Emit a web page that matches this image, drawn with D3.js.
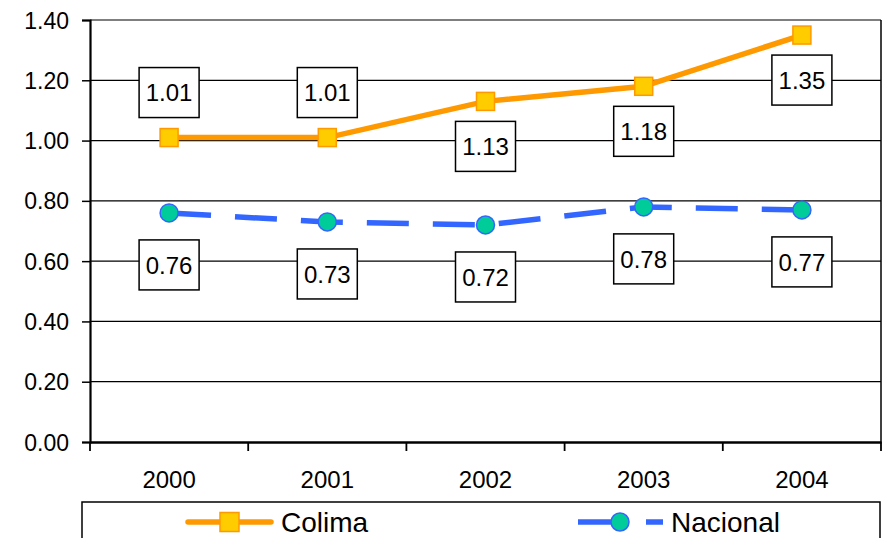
<!DOCTYPE html>
<html><head><meta charset="utf-8">
<script src="https://cdn.jsdelivr.net/npm/d3@7"></script>
<style>body{margin:0;background:#fff}svg{display:block;font-family:"Liberation Sans",Arial,sans-serif}</style>
</head><body><svg id="c" width="888" height="538"></svg>
<script>
const years = ["2000","2001","2002","2003","2004"];
const colima = [1.01, 1.01, 1.13, 1.18, 1.35];
const nacional = [0.76, 0.73, 0.72, 0.78, 0.77];
const colimaLabelPos = ["above","above","below","below","below"];
const nacionalLabelPos = ["below","below","below","below","below"];
const yTicks = [0, 0.2, 0.4, 0.6, 0.8, 1.0, 1.2, 1.4];
const seriesNames = ["Colima","Nacional"];

const svg = d3.select("#c");
const L = 90, R = 881, T = 20, B = 442;
const x = d3.scaleBand().domain(years).range([L, R]);
const y = d3.scaleLinear().domain([0, 1.4]).range([B, T]);
const cx = d => x(d) + x.bandwidth()/2;

// gridlines
svg.append("g").selectAll("line").data(yTicks.slice(1)).join("line")
  .attr("x1", L).attr("x2", R).attr("y1", d=>y(d)).attr("y2", d=>y(d))
  .attr("stroke","#000").attr("stroke-width",1.2);
// right border
svg.append("line").attr("x1",R).attr("x2",R).attr("y1",T).attr("y2",B).attr("stroke","#000").attr("stroke-width",1.5);

// y axis
const yAxis = d3.axisLeft(y).tickValues(yTicks).tickFormat(d3.format(".2f")).tickSizeOuter(0).tickSize(8).tickPadding(13);
const ga = svg.append("g").attr("transform",`translate(${L},0)`).call(yAxis);
ga.attr("font-size",null).attr("font-family",null);
ga.select(".domain").attr("stroke-width",2.2);
ga.selectAll(".tick line").attr("stroke-width",1.5);
ga.selectAll("text").style("font-size","23px").attr("fill","#000").attr("dy","0.35em");

// x axis
const xAxis = d3.axisBottom(x).tickSize(0).tickPadding(29);
const gx = svg.append("g").attr("transform",`translate(0,${B})`).call(xAxis);
gx.attr("font-size",null).attr("font-family",null);
gx.select(".domain").attr("stroke-width",2.5);
gx.selectAll("text").style("font-size","24px").attr("fill","#000");
const bounds = years.map(d=>x(d)).concat([R]);
svg.append("g").selectAll("line").data(bounds).join("line")
  .attr("x1",d=>d).attr("x2",d=>d).attr("y1",B).attr("y2",B+9)
  .attr("stroke","#000").attr("stroke-width",1.8);

const line = d3.line().x((d,i)=>cx(years[i])).y(d=>y(d));

// Nacional
svg.append("path").datum(nacional).attr("d",line).attr("fill","none")
  .attr("stroke","#3366FF").attr("stroke-width",5.5).attr("stroke-dasharray","42,24");
svg.append("g").selectAll("circle").data(nacional).join("circle")
  .attr("cx",(d,i)=>cx(years[i])).attr("cy",d=>y(d)).attr("r",9)
  .attr("fill","#00CC99").attr("stroke","#3366FF").attr("stroke-width",1.5);

// Colima
svg.append("path").datum(colima).attr("d",line).attr("fill","none")
  .attr("stroke","#FF9900").attr("stroke-width",5.5);
svg.append("g").selectAll("rect").data(colima).join("rect")
  .attr("x",(d,i)=>cx(years[i])-9).attr("y",d=>y(d)-9).attr("width",18).attr("height",18)
  .attr("fill","#FFCC00").attr("stroke","#FF9900").attr("stroke-width",1.5);

// labels
function labels(vals, pos, off){
  const g = svg.append("g");
  vals.forEach((v,i)=>{
    const px = cx(years[i]);
    const cy = pos[i]==="above" ? y(v)-off : y(v)+off;
    const w = 60, h = 50;
    g.append("rect").attr("x",px-w/2).attr("y",cy-h/2).attr("width",w).attr("height",h)
      .attr("fill","#fff").attr("stroke","#000").attr("stroke-width",1.5);
    g.append("text").attr("x",px).attr("y",cy).attr("text-anchor","middle")
      .attr("dy","0.36em").style("font-size","24px").attr("fill","#000")
      .text(v.toFixed(2));
  });
}
labels(colima, colimaLabelPos, 45);
labels(nacional, nacionalLabelPos, 52);

// legend
const lg = svg.append("g");
lg.append("rect").attr("x",82).attr("y",502).attr("width",798).attr("height",60)
  .attr("fill","#fff").attr("stroke","#000").attr("stroke-width",1.5);
const ly = 522;
// Colima legend
lg.append("line").attr("x1",188).attr("x2",271).attr("y1",ly).attr("y2",ly)
  .attr("stroke","#FF9900").attr("stroke-width",5.5).attr("stroke-linecap","round");
lg.append("rect").attr("x",229.5-9.5).attr("y",ly-9.5).attr("width",19).attr("height",19)
  .attr("fill","#FFCC00").attr("stroke","#FF9900").attr("stroke-width",1.5);
lg.append("text").attr("x",281).attr("y",532)
  .style("font-size","28px").attr("fill","#000").text(seriesNames[0]);
// Nacional legend
lg.append("line").attr("x1",578).attr("x2",620).attr("y1",ly).attr("y2",ly)
  .attr("stroke","#3366FF").attr("stroke-width",5.5);
lg.append("line").attr("x1",646).attr("x2",663).attr("y1",ly).attr("y2",ly)
  .attr("stroke","#3366FF").attr("stroke-width",5.5);
lg.append("circle").attr("cx",620).attr("cy",ly).attr("r",9)
  .attr("fill","#00CC99").attr("stroke","#3366FF").attr("stroke-width",1.5);
lg.append("text").attr("x",671).attr("y",532)
  .style("font-size","28px").attr("fill","#000").text(seriesNames[1]);
</script></body></html>
